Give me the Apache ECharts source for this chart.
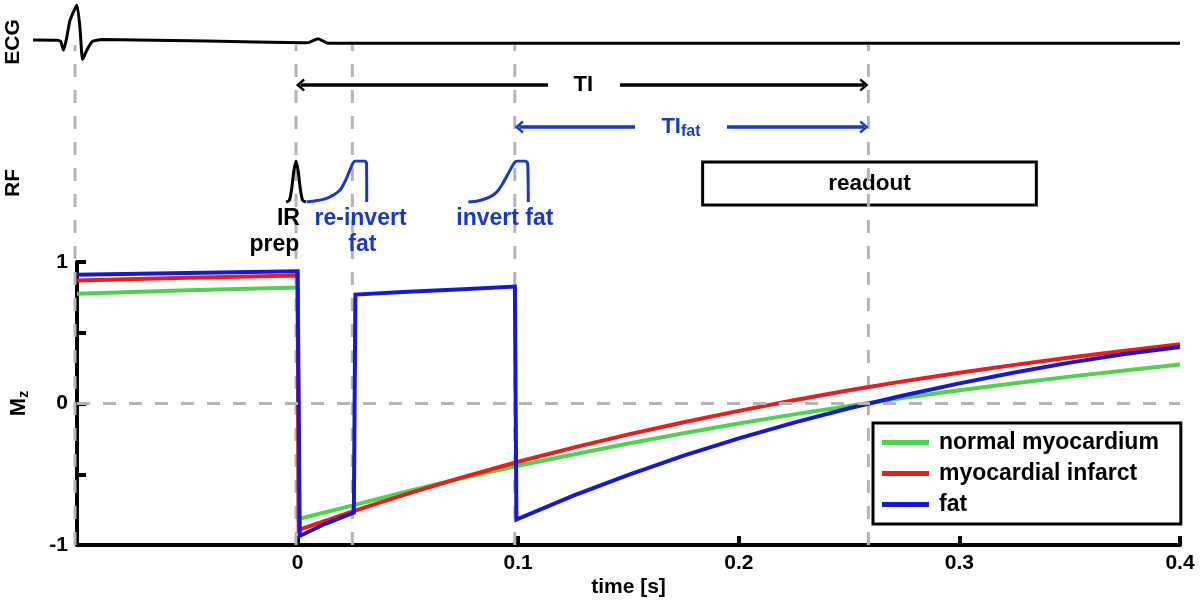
<!DOCTYPE html>
<html><head><meta charset="utf-8">
<script src="https://cdn.jsdelivr.net/npm/echarts@6/dist/echarts.min.js"></script>
<style>html,body{margin:0;padding:0;background:#fff}#c{width:1200px;height:600px}</style>
</head><body><div id="c"></div>
<script>
// ---------------- data ----------------
const xTickLabels = ['0', '0.1', '0.2', '0.3', '0.4'];
const yTickLabels = ['-1', '0', '1'];
const legendNames = ['normal myocardium', 'myocardial infarct', 'fat'];

// Mz curves [time s, Mz]
const normalMyocardium = [[-0.1,0.775],[-0.05,0.80],[0,0.82],[0.0005,-0.815],[0.025,-0.72],[0.05,-0.62],[0.075,-0.525],[0.1,-0.44],[0.125,-0.36],[0.15,-0.283],[0.175,-0.21],[0.2,-0.142],[0.225,-0.077],[0.25,-0.017],[0.275,0.04],[0.3,0.093],[0.325,0.143],[0.35,0.19],[0.375,0.234],[0.4,0.275]];
const myocardialInfarct = [[-0.1,0.87],[-0.05,0.888],[0,0.905],[0.0005,-0.894],[0.025,-0.762],[0.05,-0.637],[0.075,-0.52],[0.1,-0.412],[0.125,-0.312],[0.15,-0.218],[0.175,-0.132],[0.2,-0.052],[0.225,0.023],[0.25,0.093],[0.275,0.158],[0.3,0.218],[0.325,0.273],[0.35,0.325],[0.375,0.373],[0.4,0.418]];
const fatMz = [[-0.1,0.91],[-0.05,0.923],[0,0.935],[0.001,-0.936],[0.0125,-0.85],[0.0255,-0.772],[0.0262,0.77],[0.05,0.79],[0.075,0.808],[0.0985,0.826],[0.0992,-0.82],[0.125,-0.651],[0.15,-0.504],[0.175,-0.369],[0.2,-0.247],[0.225,-0.135],[0.25,-0.034],[0.275,0.058],[0.3,0.142],[0.325,0.219],[0.35,0.289],[0.375,0.35],[0.4,0.40]];

// ECG trace [time s, arbitrary units]
const ecgTrace = [[-0.119,0.054],[-0.108,0.05],[-0.1065,0.02],[-0.1052,-0.22],[-0.1038,0.1],[-0.1022,0.6],[-0.0991,1.0],[-0.0977,0.35],[-0.0966,-0.47],[-0.0945,-0.2],[-0.092,0.02],[-0.088,0.065],[-0.04,0.03],[0.003,-0.02],[0.006,-0.01],[0.01,0.09],[0.014,-0.025],[0.02,-0.035],[0.4,-0.035]];

// RF pulses [time s, relative amplitude]
const irPulse = [[-0.0045,0],[-0.003,0.04],[-0.002,0.3],[-0.001,0.75],[0,1],[0.001,0.75],[0.002,0.3],[0.003,0.04],[0.0045,0]];
const reinvertPulse = [[0.0048,0],[0.009,0.03],[0.0139,0.09],[0.017,0.17],[0.0199,0.29],[0.0222,0.5],[0.0244,0.78],[0.0258,0.95],[0.0268,1],[0.0312,1],[0.0319,0.95],[0.032,0]];
const invertFatPulse = [[0.078,0],[0.0815,0.02],[0.0847,0.06],[0.088,0.13],[0.0908,0.24],[0.0932,0.42],[0.0953,0.62],[0.0973,0.82],[0.099,0.97],[0.1002,1],[0.1036,1],[0.1048,0.95],[0.1051,0]];

// event times [s]
const rPeakTime = -0.1;
const irTime = 0;
const reinvertTime = 0.0255;
const invertFatTime = 0.099;
const nullTime = 0.259;
const readoutStart = 0.184;
const readoutEnd = 0.335;
const eventTimes = [rPeakTime, irTime, reinvertTime, invertFatTime, nullTime];

// ---------------- style ----------------
const FONT = '"Liberation Sans", Arial, sans-serif';
const GREEN = '#4cd44c', RED = '#f01a1a', BLUE = '#1818d2', ABLUE = '#1838c8';
const CHEVRON = 'path://M6,0 L12,7 L10.2,8.4 L6,3.4 L1.8,8.4 L0,7 Z';
const dash = {color: '#b4b4b4', width: 3, type: [13, 13]};
const bold = (size, color) => ({fontFamily: FONT, fontSize: size, fontWeight: 'bold', color: color || '#000'});

function hiddenX(gi, min) { return {gridIndex: gi, type: 'value', min: min, max: 0.4, show: false}; }
function hiddenY(gi, min, max) { return {gridIndex: gi, type: 'value', min: min, max: max, show: false}; }

function curve(name, data, color) {
  return {name: name, type: 'line', xAxisIndex: 0, yAxisIndex: 0, data: data, showSymbol: false,
    lineStyle: {color: color, width: 4, join: 'miter'}, itemStyle: {color: color}, z: 3};
}
function guide(t) {
  return {type: 'line', xAxisIndex: 2, yAxisIndex: 2, data: [[t, 0], [t, 1]], showSymbol: false,
    clip: false, silent: true, lineStyle: dash, z: 1};
}
function arrowSeg(y, x0, x1, sym0, sym1) {
  return [{coord: [x0, y], symbol: sym0}, {coord: [x1, y], symbol: sym1}];
}
function textPoint(x, y, text, color, align, size) {
  return {value: [x, y], label: {show: true, position: 'inside', formatter: text, align: align || 'center',
    verticalAlign: 'middle', fontFamily: FONT, fontSize: size || 23, fontWeight: 'bold', color: color, opacity: 1}};
}

const chart = echarts.init(document.getElementById('c'));
const option = {
  animation: false,
  backgroundColor: '#fff',
  textStyle: {fontFamily: FONT},
  grid: [
    {left: 75, right: 20, top: 262, height: 283},   // 0 main Mz
    {left: 30.8, right: 20, top: 5, height: 74},    // 1 ECG
    {left: 75, right: 20, top: 45, height: 500},    // 2 dashed event guides
    {left: 75, right: 20, top: 64, height: 84},     // 3 timing arrows
    {left: 75, right: 20, top: 161, height: 94.3}   // 4 RF
  ],
  xAxis: [
    {gridIndex: 0, type: 'value', min: -0.1, max: 0.4, interval: 0.1,
     axisLine: {onZero: false, lineStyle: {color: '#000', width: 4}},
     axisTick: {inside: true, length: 9, lineStyle: {color: '#000', width: 4}},
     axisLabel: Object.assign({margin: 8, formatter: v => { const i = Math.round(v * 10); return i < 0 ? '' : xTickLabels[i]; }}, bold(21)),
     splitLine: {show: false},
     name: 'time [s]', nameLocation: 'middle', nameGap: 32, nameTextStyle: bold(21)},
    hiddenX(1, -0.12), hiddenX(2, -0.1), hiddenX(3, -0.1), hiddenX(4, -0.1)
  ],
  yAxis: [
    {gridIndex: 0, type: 'value', min: -1, max: 1, interval: 0.5,
     axisLine: {onZero: false, lineStyle: {color: '#000', width: 4}},
     axisTick: {inside: true, length: 9, lineStyle: {color: '#000', width: 4}},
     axisLabel: Object.assign({margin: 9, formatter: v => { const i = Math.round(v + 1); return (Math.abs(v - Math.round(v)) < 1e-6) ? yTickLabels[i] : ''; }}, bold(21)),
     splitLine: {show: false},
     name: '{m|M}{z|z}', nameLocation: 'middle', nameRotate: 90, nameGap: 46,
     nameTextStyle: {rich: {m: bold(22), z: Object.assign({padding: [10, 0, 0, 0]}, bold(14))}}},
    hiddenY(1, -1, 1), hiddenY(2, 0, 1), hiddenY(3, 0, 2), hiddenY(4, -1.3, 1)
  ],
  legend: {
    data: legendNames, orient: 'vertical', left: 873, top: 423,
    padding: [8, 22, 8, 9], itemGap: 8, itemWidth: 47, itemHeight: 5, icon: 'rect',
    borderColor: '#000', borderWidth: 3, backgroundColor: '#fff', selectedMode: false,
    textStyle: Object.assign({padding: [0, 0, 0, 5], lineHeight: 22}, bold(23))
  },
  graphic: [
    {type: 'text', x: 13, y: 42, rotation: Math.PI / 2, style: {text: 'ECG', align: 'center', verticalAlign: 'middle', fill: '#000', font: 'bold 21px ' + FONT}},
    {type: 'text', x: 13, y: 183, rotation: Math.PI / 2, style: {text: 'RF', align: 'center', verticalAlign: 'middle', fill: '#000', font: 'bold 21px ' + FONT}}
  ],
  series: [
    // dashed event guides
    ...eventTimes.map(guide),
    // zero line in main plot
    {type: 'line', xAxisIndex: 0, yAxisIndex: 0, data: [], z: 1,
     markLine: {silent: true, symbol: ['none', 'none'], label: {show: false}, lineStyle: dash, data: [{yAxis: 0}]}},
    curve(legendNames[0], normalMyocardium, GREEN),
    curve(legendNames[1], myocardialInfarct, RED),
    curve(legendNames[2], fatMz, BLUE),
    // ECG
    {type: 'line', xAxisIndex: 1, yAxisIndex: 1, data: ecgTrace, showSymbol: false, smooth: 0.15,
     lineStyle: {color: '#000', width: 3}, z: 3},
    // RF pulses
    {type: 'line', xAxisIndex: 4, yAxisIndex: 4, data: irPulse, showSymbol: false, smooth: 0.2,
     lineStyle: {color: '#000', width: 3}, z: 4},
    {type: 'line', xAxisIndex: 4, yAxisIndex: 4, data: reinvertPulse, showSymbol: false, smooth: 0.2,
     lineStyle: {color: ABLUE, width: 3}, z: 4},
    {type: 'line', xAxisIndex: 4, yAxisIndex: 4, data: invertFatPulse, showSymbol: false, smooth: 0.2,
     lineStyle: {color: ABLUE, width: 3}, z: 4,
     markArea: {silent: true,
       itemStyle: {color: '#fff', opacity: 1, borderColor: '#000', borderWidth: 3},
       label: Object.assign({show: true, position: 'inside', formatter: 'readout'}, bold(22.5)),
       data: [[{coord: [readoutStart, -0.073]}, {coord: [readoutEnd, 0.976]}]]}},
    // RF labels
    {type: 'scatter', xAxisIndex: 4, yAxisIndex: 4, symbolSize: 0, z: 5, silent: true,
     itemStyle: {opacity: 1},
     data: [
       textPoint(irTime + 0.0018, -0.415, 'IR', '#000', 'right'),
       textPoint(irTime + 0.0015, -1.05, 'prep', '#000', 'right'),
       textPoint(reinvertTime + 0.0037, -0.415, 're-invert', ABLUE),
       textPoint(reinvertTime + 0.0045, -1.05, 'fat', ABLUE),
       textPoint(invertFatTime - 0.0045, -0.415, 'invert fat', ABLUE)
     ]},
    // timing arrows
    {type: 'line', xAxisIndex: 3, yAxisIndex: 3, data: [], z: 4,
     markLine: {silent: true, symbolSize: [13, 9], label: {show: false},
       data: [
         arrowSeg(1.5, irTime + 0.002, 0.114, CHEVRON, 'none'),
         arrowSeg(1.5, 0.1466, nullTime - 0.002, 'none', CHEVRON)
       ],
       lineStyle: {color: '#000', width: 3.5, type: 'solid'}}},
    {type: 'line', xAxisIndex: 3, yAxisIndex: 3, data: [], z: 4,
     markLine: {silent: true, symbolSize: [13, 9], label: {show: false},
       data: [
         arrowSeg(0.5, invertFatTime + 0.002, 0.1534, CHEVRON, 'none'),
         arrowSeg(0.5, 0.195, nullTime - 0.002, 'none', CHEVRON)
       ],
       lineStyle: {color: ABLUE, width: 3.5, type: 'solid'}}},
    {type: 'scatter', xAxisIndex: 3, yAxisIndex: 3, symbolSize: 0, z: 5, silent: true,
     itemStyle: {opacity: 1},
     data: [
       textPoint(0.130, 1.5, 'TI', '#000', 'center', 22),
       {value: [0.1742, 0.5], label: {show: true, position: 'inside', formatter: '{a|TI}{s|fat}', opacity: 1,
         rich: {a: bold(22, ABLUE), s: Object.assign({padding: [10, 0, 0, 0]}, bold(16, ABLUE))}}}
     ]}
  ]
};
chart.setOption(option);
</script>
</body></html>
